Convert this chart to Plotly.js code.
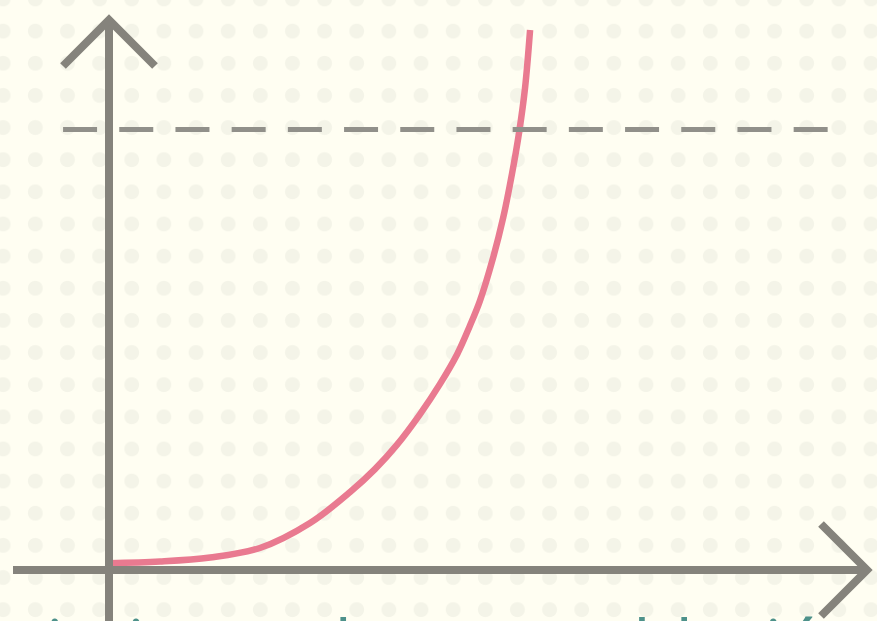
<!DOCTYPE html>
<html>
<head>
<meta charset="utf-8">
<script src="https://cdn.plot.ly/plotly-3.0.1.min.js"></script>
<style>
  html, body { margin: 0; padding: 0; overflow: hidden; }
  body { width: 877px; height: 621px; }
  #chart {
    width: 877px; height: 621px;
    background-color: #fffef2;
    background-image: radial-gradient(circle at center, #f4f4e8 0px, #f4f4e8 7px, rgba(244,244,232,0) 7.8px);
    background-size: 32.15px 32.15px;
    background-position: -12.9px -17.1px;
  }
</style>
</head>
<body>
<div id="chart"></div>
<script>
// ---- data ----
const timeSteps = [0, 1.21, 2.40, 3.58, 4.77, 5.72, 6.31, 6.83, 7.38, 7.85, 8.26, 8.56, 8.80, 9.11, 9.35, 9.56, 9.73, 9.87, 9.99];
const population = [1.55, 1.93, 2.84, 5.0, 10.67, 17.7, 22.9, 28.4, 35.4, 42.2, 49.0, 55.4, 61.1, 70.8, 79.9, 89.9, 99.4, 109.4, 122.6];
const capacityLevel = 100;
const capacitySpan = [-1.09, 17.06];
const captionText = "crecimiento de una población";

// ---- layout geometry (pixels of the 877x621 picture) ----
const W = 877, H = 621;
const X0 = 109, Y0 = 570;      // axis crossing
const SX = 42.15, SY = 4.405;  // pixels per data unit
const xRange = [-X0 / SX, (W - X0) / SX];
const yRange = [-(H - Y0) / SY, Y0 / SY];
const px = v => v / W;
const py = v => 1 - v / H;

const axisColor = '#85837c';
const axisWidth = 8;

const traces = [
  {
    x: timeSteps, y: population,
    type: 'scatter', mode: 'lines',
    line: { color: '#e97a90', width: 6.5, shape: 'spline', smoothing: 1 },
    hoverinfo: 'skip'
  },
  {
    x: capacitySpan, y: capacitySpan.map(() => capacityLevel),
    type: 'scatter', mode: 'lines',
    line: { color: '#91908a', width: 5, dash: '34px,22.2px' },
    hoverinfo: 'skip'
  }
];

const shapes = [
  // vertical axis
  { type: 'path', xref: 'paper', yref: 'paper', layer: 'above',
    path: `M ${px(X0)},${py(H + 10)} L ${px(X0)},${py(20)}`,
    line: { color: axisColor, width: axisWidth } },
  // vertical arrow head
  { type: 'path', xref: 'paper', yref: 'paper', layer: 'above',
    path: `M ${px(X0 - 46)},${py(66)} L ${px(X0)},${py(20)} L ${px(X0 + 46)},${py(66)}`,
    line: { color: axisColor, width: axisWidth } },
  // horizontal axis
  { type: 'path', xref: 'paper', yref: 'paper', layer: 'above',
    path: `M ${px(13)},${py(Y0)} L ${px(867)},${py(Y0)}`,
    line: { color: axisColor, width: axisWidth } },
  // horizontal arrow head
  { type: 'path', xref: 'paper', yref: 'paper', layer: 'above',
    path: `M ${px(821)},${py(Y0 - 46)} L ${px(867)},${py(Y0)} L ${px(821)},${py(Y0 + 46)}`,
    line: { color: axisColor, width: axisWidth } }
];

const layout = {
  width: W, height: H,
  margin: { l: 0, r: 0, t: 0, b: 0, pad: 0 },
  paper_bgcolor: 'rgba(0,0,0,0)',
  plot_bgcolor: 'rgba(0,0,0,0)',
  showlegend: false,
  xaxis: { range: xRange, visible: false, fixedrange: true },
  yaxis: { range: yRange, visible: false, fixedrange: true },
  shapes: shapes,
  annotations: [
    { text: captionText, xref: 'paper', yref: 'paper',
      x: px(-89), y: py(594), xanchor: 'left', yanchor: 'top',
      showarrow: false,
      font: { family: 'Open Sans, sans-serif', size: 69, color: '#4d918a' } }
  ]
};

Plotly.newPlot('chart', traces, layout, { displayModeBar: false, staticPlot: true });
</script>
</body>
</html>
